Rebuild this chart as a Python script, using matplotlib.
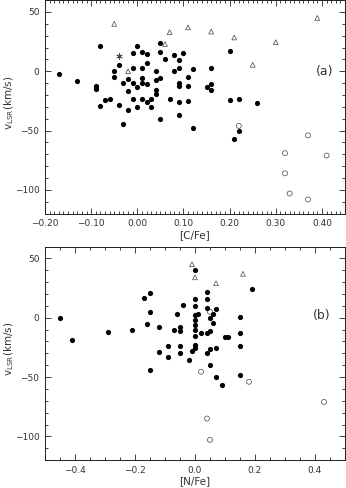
import numpy as np
import matplotlib
matplotlib.use("Agg")
import matplotlib.pyplot as plt
from matplotlib.ticker import MultipleLocator, FixedLocator, FixedFormatter

# ---- panel (a): [C/Fe] vs v_LSR ----
cfe_dots = [-0.17, -0.13, -0.09, -0.09, -0.08, -0.08, -0.07, -0.06, -0.05, -0.05,
            -0.04, -0.04, -0.03, -0.03, -0.02, -0.02, -0.02, -0.01, -0.01, -0.01,
            -0.01, 0.00, 0.00, 0.00, 0.01, 0.01, 0.01, 0.01, 0.01, 0.02,
            0.02, 0.02, 0.02, 0.03, 0.03, 0.04, 0.04, 0.04, 0.04, 0.05,
            0.05, 0.05, 0.05, 0.06, 0.07, 0.08, 0.08, 0.09, 0.09, 0.09,
            0.09, 0.09, 0.09, 0.10, 0.11, 0.11, 0.11, 0.12, 0.12, 0.15,
            0.16, 0.16, 0.16, 0.20, 0.20, 0.21, 0.22, 0.22, 0.26]
vlsr_c_dots = [-2, -8, -12, -15, 21.5, -29, -24, -23.5, 0, -5,
               5, -28, -10, -44, -6.5, -16.5, -33, 15.5, 2.5, -10,
               -23.5, 21, -13, -30, 16.5, 3, -6, -10, -23, 14.5,
               7, -11, -26, -23.5, -30, 0, -7, -16, -19, 23.5,
               16, -6, -40, 10.5, -23.5, 14, 0, 9.5, 3, -10,
               -12, -26, -36.5, 15.5, -4.5, -12.5, -25, 2, -48, -13,
               2.5, -11, -16, 17, -24, -57, -23, -50, -27]
cfe_tri = [-0.05, -0.02, 0.06, 0.07, 0.11, 0.16, 0.21, 0.25, 0.30, 0.39]
vlsr_c_tri = [40, 0, 23, 33, 37, 33.5, 28.5, 5.5, 24.5, 45]
cfe_circ = [0.22, 0.37, 0.32, 0.41, 0.32, 0.33, 0.37]
vlsr_c_circ = [-46, -54, -69, -71, -86, -103, -108]
cfe_star = [-0.04]
vlsr_c_star = [13]

# ---- panel (b): [N/Fe] vs v_LSR ----
nfe_dots = [-0.45, -0.41, -0.29, -0.21, -0.17, -0.15, -0.15, -0.16, -0.15, -0.12,
            -0.12, -0.09, -0.09, -0.07, -0.06, -0.05, -0.05, -0.05, -0.05, -0.04,
            -0.02, -0.01, 0.00, 0.00, 0.00, 0.00, 0.00, 0.00, 0.00, 0.00,
            0.00, 0.00, 0.01, 0.02, 0.04, 0.04, 0.04, 0.04, 0.04, 0.05,
            0.05, 0.05, 0.05, 0.06, 0.06, 0.07, 0.07, 0.07, 0.09, 0.10,
            0.11, 0.15, 0.15, 0.15, 0.15, 0.19]
vlsr_n_dots = [0, -19, -12, -10, 16.5, 21, 5, -5, -44, -8,
               -29, -24, -33, -10, 3, -7.5, -11.5, -24, -30, 11,
               -36, -28, 40, 15.7, 9.8, 2.5, -2, -6, -10, -15.3,
               -23, -25.5, 3, -13, 22, 15.7, 8, -12.6, -30, 0,
               -11, -26, -40, 3, -4.2, 7, -25.3, -49.7, -57, -16.3,
               -16.3, 0.5, -12.5, -24, -48, 24]
nfe_tri = [-0.01, 0.00, 0.07, 0.16]
vlsr_n_tri = [45, 34, 29, 37]
nfe_circ = [0.05, 0.02, 0.18, 0.43, 0.04, 0.05]
vlsr_n_circ = [5, -45.5, -54, -71, -85, -103]

GRAY = "#444444"
TXT = "#333333"
FS_TICK = 6.5

fig = plt.figure(figsize=(3.46, 4.88), dpi=100)
ax1 = fig.add_axes([45 / 346, 1 - 213.7 / 488, 300 / 346, 213.6 / 488])
ax2 = fig.add_axes([45 / 346, 1 - 460.1 / 488, 300 / 346, 213.6 / 488])


def style_axis(ax, xminor, xticks, xlabels):
    ax.set_ylim(-120, 60)
    ax.xaxis.set_major_locator(FixedLocator(xticks))
    ax.xaxis.set_major_formatter(FixedFormatter(xlabels))
    ax.xaxis.set_minor_locator(MultipleLocator(xminor))
    ax.yaxis.set_major_locator(FixedLocator([-100, -50, 0, 50]))
    ax.yaxis.set_major_formatter(FixedFormatter(["\u2212100", "\u221250", "0", "50"]))
    ax.yaxis.set_minor_locator(MultipleLocator(10))
    ax.tick_params(which="both", direction="in", top=True, right=True,
                   colors="#222222", labelcolor=TXT, labelsize=FS_TICK, width=0.6)
    ax.tick_params(which="major", length=4.0, pad=4)
    ax.tick_params(which="minor", length=2.0)
    for s in ax.spines.values():
        s.set_linewidth(0.7)
        s.set_color("#222222")
    ax.set_ylabel(r"v$_{\rm LSR}$(km/s)", fontsize=7.5, color=TXT)
    ax.yaxis.set_label_coords(-0.098, 0.52)


def draw(ax, xd, yd, xt, yt, xc, yc):
    ax.scatter(xd, yd, s=14, c="black", marker="o", linewidths=0, zorder=3)
    ax.scatter(xt, yt, s=12, facecolors="none", edgecolors=GRAY, marker="^",
               linewidths=0.5, zorder=2)
    ax.scatter(xc, yc, s=13, facecolors="none", edgecolors=GRAY, marker="o",
               linewidths=0.5, zorder=2)


# panel (a)
draw(ax1, cfe_dots, vlsr_c_dots, cfe_tri, vlsr_c_tri, cfe_circ, vlsr_c_circ)
ax1.scatter(cfe_star, vlsr_c_star, s=16, c=GRAY, marker=(6, 2, 0), linewidths=0.6)
ax1.set_xlim(-0.2, 0.45)
style_axis(ax1, 0.01,
           [-0.2, -0.1, 0.0, 0.1, 0.2, 0.3, 0.4],
           ["\u22120.20", "\u22120.10", "0.00", "0.10", "0.20", "0.30", "0.40"])
ax1.set_xlabel("[C/Fe]", fontsize=7.5, color=TXT, labelpad=1)
ax1.text(0.96, 0, "(a)", transform=ax1.get_yaxis_transform(), ha="right",
         va="center", fontsize=9, color=TXT)

# panel (b)
draw(ax2, nfe_dots, vlsr_n_dots, nfe_tri, vlsr_n_tri, nfe_circ, vlsr_n_circ)
ax2.set_xlim(-0.5, 0.5)
style_axis(ax2, 0.05,
           [-0.4, -0.2, 0.0, 0.2, 0.4],
           ["\u22120.4", "\u22120.2", "0.0", "0.2", "0.4"])
ax2.set_xlabel("[N/Fe]", fontsize=7.5, color=TXT, labelpad=1)
ax2.text(0.953, 2, "(b)", transform=ax2.get_yaxis_transform(), ha="right",
         va="center", fontsize=9, color=TXT)

fig.savefig("out.png", dpi=100)
